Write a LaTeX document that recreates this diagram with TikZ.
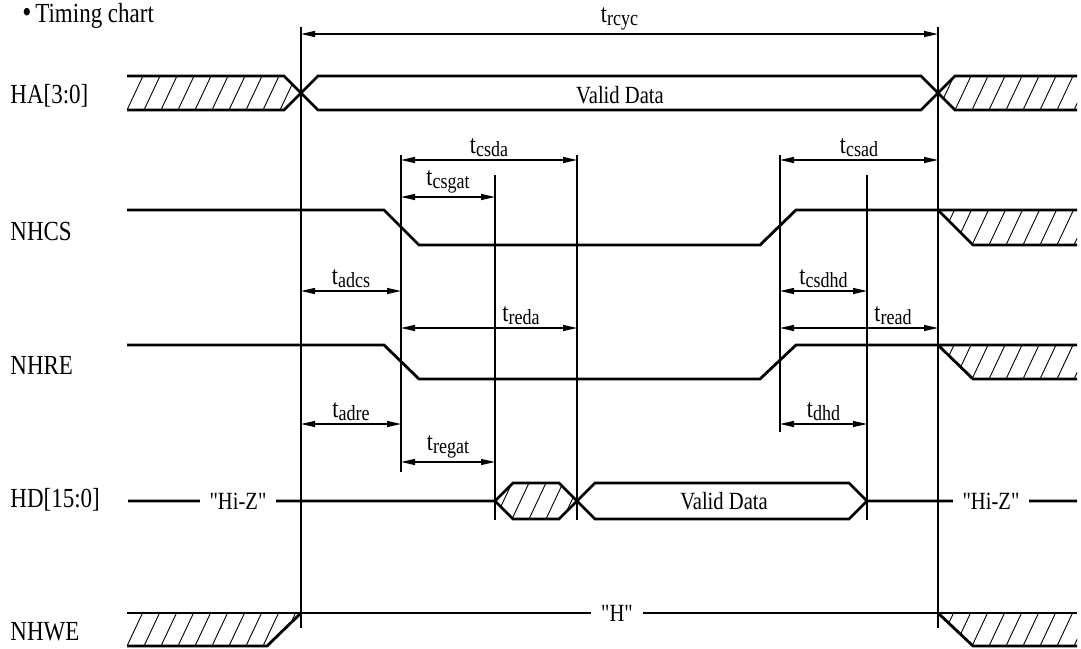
\documentclass[tikz,border=0pt]{standalone}
\usepackage{fontspec}
\setmainfont{Liberation Serif}
\usetikzlibrary{arrows.meta}
\newcommand{\TLeft}{127}
\newcommand{\TStart}{301}
\newcommand{\TCs}{401}
\newcommand{\TGat}{495}
\newcommand{\TDa}{577}
\newcommand{\TRise}{780}
\newcommand{\THold}{867}
\newcommand{\TEnd}{938}
\newcommand{\TRight}{1077}
\newcommand{\HatchStep}{17}
\newcommand{\Stretch}[1]{\scalebox{1}[1.2]{#1}}
\newcommand{\Quoted}[1]{\textquotedbl#1\textquotedbl}
\newcommand{\tsym}[1]{\Stretch{t\raisebox{-1.2pt}{\fontsize{9}{10}\selectfont #1}}}
\tikzset{
  sigline/.style={line width=1.4pt,line join=miter},
  hatchline/.style={line width=0.45pt},
  markline/.style={line width=0.6pt},
  spanarrow/.style={
    line width=0.6pt,
    {Triangle[length=7pt,width=3pt]}-{Triangle[length=7pt,width=3pt]}
  },
  siglabel/.style={anchor=west,inner sep=0pt,font=\fontsize{11.5}{13}\selectfont},
  datalabel/.style={inner sep=0pt,font=\fontsize{10.3}{12}\selectfont},
  gaplabel/.style={fill=white,inner xsep=5pt,inner ysep=1pt,font=\fontsize{10.3}{12}\selectfont},
  spanlabel/.style={anchor=south,inner sep=1.5pt,font=\fontsize{11}{13}\selectfont}
}
\newcommand{\HatchArea}[4]{%
  \begin{scope}
    \clip #1;
    \foreach \k in {0,...,#3}
      \draw[hatchline] ({#2+\HatchStep*\k-8},{#4+17}) -- ++(32,-68);
  \end{scope}
}
\newcommand{\TimeSpan}[6]{%
  \coordinate (#1L) at (#2,#4);
  \coordinate (#1R) at (#3,#4);
  \draw[spanarrow] (#1L) -- (#1R)
    node[spanlabel,midway,xshift=#6] (#1) {\tsym{#5}};
}
\begin{document}
\begin{tikzpicture}[x=0.5pt,y=-0.5pt]
  \useasboundingbox (0,0) rectangle (1081,648);

  \node[anchor=base west,inner sep=0pt,font=\fontsize{11.5}{13}\selectfont]
    (title) at (22,23) {\Stretch{{\fontsize{13}{13}\selectfont\textbullet}\,Timing chart}};

  % time marks
  \foreach \mx/\ya/\yb in {\TStart/27/628,\TEnd/27/628,\TCs/155/472,\TGat/175/520,
                           \TDa/155/520,\TRise/155/432,\THold/175/520}
    \draw[markline] (\mx,\ya) -- (\mx,\yb);

  % signal names
  \node[siglabel] (nameHA) at (10,96) {\Stretch{HA[3:0]}};
  \node[siglabel] (nameCS) at (10,231) {\Stretch{NHCS}};
  \node[siglabel] (nameRE) at (10,365) {\Stretch{NHRE}};
  \node[siglabel] (nameHD) at (10,500) {\Stretch{HD[15:0]}};
  \node[siglabel] (nameWE) at (10,632) {\Stretch{NHWE}};

  % HA[3:0]
  \HatchArea{(127,76) -- (284,76) -- (301,93) -- (284,110) -- (127,110) -- cycle}{110}{11}{110}
  \HatchArea{(938,93) -- (955,76) -- (1077,76) -- (1077,110) -- (955,110) -- cycle}{921}{9}{110}
  \draw[sigline] (\TLeft,76) -- (284,76) -- (318,110) -- (921,110) -- (955,76) -- (\TRight,76);
  \draw[sigline] (\TLeft,110) -- (284,110) -- (318,76) -- (921,76) -- (955,110) -- (\TRight,110);
  \node[datalabel] (dataHA) at (620,95) {\Stretch{Valid Data}};

  % NHCS
  \HatchArea{(938,210) -- (1077,210) -- (1077,245) -- (973,245) -- cycle}{921}{9}{245}
  \draw[sigline] (\TLeft,210) -- (384,210) -- (419,245) -- (760,245) -- (796,210) -- (\TRight,210);
  \draw[sigline] (\TEnd,210) -- (973,245) -- (\TRight,245);

  % NHRE
  \HatchArea{(938,345) -- (1077,345) -- (1077,379) -- (973,379) -- cycle}{921}{9}{379}
  \draw[sigline] (\TLeft,345) -- (384,345) -- (419,379) -- (760,379) -- (796,345) -- (\TRight,345);
  \draw[sigline] (\TEnd,345) -- (973,379) -- (\TRight,379);

  % HD[15:0]
  \HatchArea{(495,501) -- (513,483) -- (559,483) -- (577,501) -- (559,519) -- (513,519) -- cycle}{478}{6}{519}
  \draw[sigline] (128,501) -- (\TGat,501) -- (513,483) -- (559,483) -- (595,519) -- (849,519)
    -- (\THold,501) -- (\TRight,501);
  \draw[sigline] (\TGat,501) -- (513,519) -- (559,519) -- (595,483) -- (849,483) -- (\THold,501);
  \node[gaplabel] (hizL) at (238,501) {\Stretch{\Quoted{Hi-Z}}};
  \node[gaplabel] (hizR) at (991,501) {\Stretch{\Quoted{Hi-Z}}};
  \node[datalabel] (dataHD) at (724,501) {\Stretch{Valid Data}};

  % NHWE
  \HatchArea{(127,613) -- (301,613) -- (267,646) -- (127,646) -- cycle}{110}{11}{646}
  \HatchArea{(938,613) -- (1077,613) -- (1077,646) -- (973,646) -- cycle}{921}{9}{646}
  \draw[sigline] (\TLeft,613) -- (\TRight,613);
  \draw[sigline] (\TLeft,646) -- (267,646) -- (\TStart,613);
  \draw[sigline] (\TEnd,613) -- (973,646) -- (\TRight,646);
  \node[gaplabel] (weH) at (617,613) {\Stretch{\Quoted{H}}};

  % timing parameters
  \TimeSpan{rcyc}{\TStart}{\TEnd}{34}{rcyc}{0pt}
  \TimeSpan{csda}{\TCs}{\TDa}{160}{csda}{0pt}
  \TimeSpan{csgat}{\TCs}{\TGat}{197}{csgat}{0pt}
  \TimeSpan{csad}{\TRise}{\TEnd}{160}{csad}{0pt}
  \TimeSpan{adcs}{\TStart}{\TCs}{291}{adcs}{0pt}
  \TimeSpan{reda}{\TCs}{\TDa}{328}{reda}{16pt}
  \TimeSpan{csdhd}{\TRise}{\THold}{291}{csdhd}{0pt}
  \TimeSpan{read}{\TRise}{\TEnd}{328}{read}{17pt}
  \TimeSpan{adre}{\TStart}{\TCs}{424}{adre}{0pt}
  \TimeSpan{regat}{\TCs}{\TGat}{462}{regat}{0pt}
  \TimeSpan{dhd}{\TRise}{\THold}{424}{dhd}{0pt}
\end{tikzpicture}
\end{document}
